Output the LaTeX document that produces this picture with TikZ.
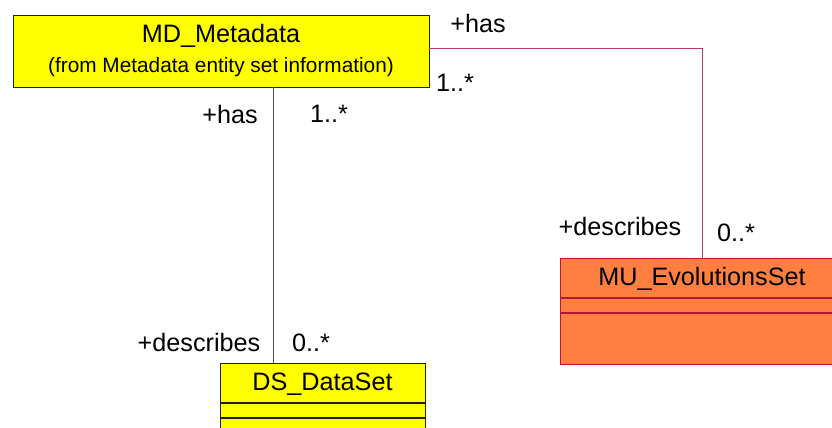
\documentclass[tikz,border=0pt]{standalone}
\usepackage{fontspec}
\setmainfont{Liberation Sans}
\definecolor{umlyellow}{HTML}{FFFF00}
\definecolor{umlorange}{HTML}{FF7F40}
\definecolor{muborder}{HTML}{B8143C}
\definecolor{muline}{HTML}{B83A6A}
\definecolor{boxborder}{HTML}{202020}
\begin{document}
\begin{tikzpicture}[x=1pt,y=-1pt,
  lbl/.style={inner sep=0pt,font=\fontsize{25.2}{29}\selectfont},
  sublbl/.style={inner sep=0pt,font=\fontsize{20.8}{25}\selectfont},
  ybox/.style={draw=boxborder,fill=umlyellow,line width=0.8pt,inner sep=0pt},
  obox/.style={draw=muborder,fill=umlorange,line width=0.8pt,inner sep=0pt},
  assoc/.style={draw=boxborder!80,line width=0.8pt},
  assocmu/.style={draw=muline,line width=0.8pt}]
\useasboundingbox (0,0) rectangle (832,428);
\clip (0,0) rectangle (832,428);
% MD_Metadata
\node[ybox,minimum width=416pt,minimum height=72pt] (md) at (221,51) {};
\node[lbl] (mdt) at (221,36) {MD\_Metadata};
\node[sublbl] (mds) at (221,67) {(from Metadata entity set information)};
% DS_DataSet
\node[ybox,minimum width=205pt,minimum height=39pt,anchor=north west] (ds) at (220,363) {};
\node[ybox,minimum width=205pt,minimum height=14pt,anchor=north] (ds2) at (ds.south) {};
\node[ybox,minimum width=205pt,minimum height=30pt,anchor=north] (ds3) at (ds2.south) {};
\node[lbl] (dst) at (322.5,384) {DS\_DataSet};
% MU_EvolutionsSet
\node[obox,minimum width=284pt,minimum height=39pt,anchor=north west] (mu) at (560,258) {};
\node[obox,minimum width=284pt,minimum height=14pt,anchor=north] (mu2) at (mu.south) {};
\node[obox,minimum width=284pt,minimum height=51pt,anchor=north] (mu3) at (mu2.south) {};
\node[lbl] (mut) at (702,279) {MU\_EvolutionsSet};
% connectors
\coordinate (xl) at (273,0);
\coordinate (yr) at (0,48);
\draw[assoc] (md.south -| xl) -- (ds.north -| xl);
\draw[assocmu] (md.east |- yr) -| (mu.north);
% role labels
\node[lbl] (h1) at (478,23) {+has};
\node[lbl] (m1) at (455,83) {1..*};
\node[lbl] (h2) at (230,114) {+has};
\node[lbl] (m2) at (329,114) {1..*};
\node[lbl] (d1) at (620,226) {+describes};
\node[lbl] (z1) at (736,233) {0..*};
\node[lbl] (d2) at (199,342) {+describes};
\node[lbl] (z2) at (311,343) {0..*};
\end{tikzpicture}
\end{document}
